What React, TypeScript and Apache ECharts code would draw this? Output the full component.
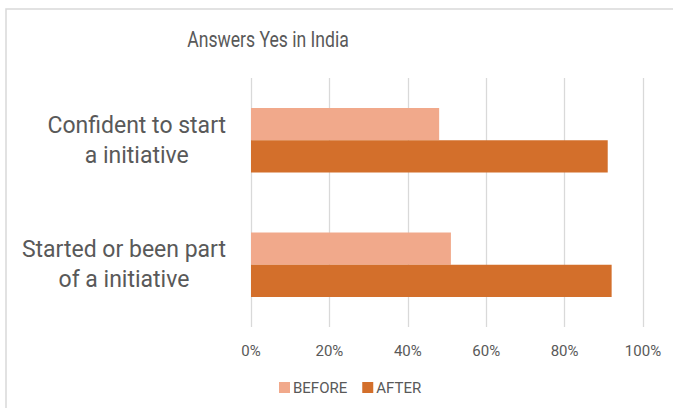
import React, { useEffect, useRef } from "react";
import * as echarts from "echarts";

const categories = ["Confident to start\na initiative", "Started or been part\nof a initiative"];
const beforeValues = [48, 51];
const afterValues = [91, 92];
const seriesNames = ["BEFORE", "AFTER"];
const titleText = "Answers Yes in India";

export default function App() {
  const ref = useRef<HTMLDivElement>(null);
  useEffect(() => {
    document.body.style.margin = "0";
    const chart = echarts.init(ref.current!, null, { renderer: "svg" });
    const font = "Roboto, 'Open Sans', sans-serif";
    chart.setOption({
      animation: false,
      backgroundColor: "#ffffff",
      textStyle: { fontFamily: font },
      graphic: [
        {
          type: "rect",
          shape: { x: 6, y: 9, width: 700, height: 500 },
          style: { fill: "none", stroke: "#d9d9d9", lineWidth: 1.5 },
          silent: true,
        },
        {
          type: "text",
          x: 268,
          y: 40,
          scaleX: 0.8,
          silent: true,
          style: {
            text: titleText,
            fontSize: 22,
            fontFamily: font,
            fill: "#595959",
            align: "center",
            verticalAlign: "middle",
          },
        },
      ],
      legend: {
        data: seriesNames,
        left: 274,
        top: 375,
        itemWidth: 11,
        itemHeight: 11,
        itemGap: 15,
        icon: "rect",
        textStyle: { fontSize: 15, color: "#595959", fontFamily: font, padding: [0, 0, 0, -2] },
      },
      grid: { left: 251, right: 30, top: 78, bottom: 81, containLabel: false },
      xAxis: {
        type: "value",
        min: 0,
        max: 100,
        interval: 20,
        axisLine: { show: false },
        axisTick: { show: false },
        splitLine: { lineStyle: { color: "#d9d9d9", width: 1.3 } },
        axisLabel: { formatter: "{value}%", fontSize: 15, color: "#595959", margin: 16, fontFamily: font },
      },
      yAxis: {
        type: "category",
        inverse: true,
        data: categories,
        axisLine: { show: false },
        axisTick: { show: false },
        axisLabel: {
          margin: 25,
          color: "#595959",
          fontSize: 23,
          lineHeight: 30,
          fontFamily: font,
          formatter: (v: string) => v.split("\n").map((l) => `{c|${l}}`).join("\n"),
          rich: { c: { align: "center", fontSize: 23, lineHeight: 30, color: "#595959", fontFamily: font } },
        },
      },
      series: [
        {
          name: seriesNames[0],
          type: "bar",
          data: beforeValues,
          itemStyle: { color: "#F1A98B" },
          barGap: "0%",
          barCategoryGap: "48%",
        },
        {
          name: seriesNames[1],
          type: "bar",
          data: afterValues,
          itemStyle: { color: "#D36F2B" },
          barGap: "0%",
          barCategoryGap: "48%",
        },
      ],
    });
    return () => chart.dispose();
  }, []);
  return <div ref={ref} style={{ width: 673, height: 408 }} />;
}
